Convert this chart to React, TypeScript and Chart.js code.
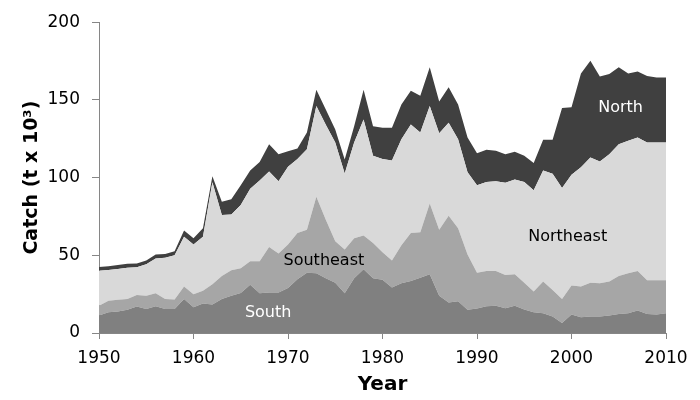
import React, { useEffect, useRef } from "react";
import { Chart, registerables } from "chart.js";

Chart.register(...registerables);

const years = [
  1950, 1951, 1952, 1953, 1954, 1955, 1956, 1957, 1958, 1959,
  1960, 1961, 1962, 1963, 1964, 1965, 1966, 1967, 1968, 1969,
  1970, 1971, 1972, 1973, 1974, 1975, 1976, 1977, 1978, 1979,
  1980, 1981, 1982, 1983, 1984, 1985, 1986, 1987, 1988, 1989,
  1990, 1991, 1992, 1993, 1994, 1995, 1996, 1997, 1998, 1999,
  2000, 2001, 2002, 2003, 2004, 2005, 2006, 2007, 2008, 2009, 2010,
];

const south = [
  11.3, 13.4, 13.8, 14.9, 17.0, 15.5, 17.2, 15.5, 15.5, 21.9,
  16.5, 19.0, 18.3, 21.9, 24.0, 25.7, 31.0, 25.5, 26.1, 26.1,
  29.0, 34.6, 38.8, 38.4, 35.2, 32.4, 25.5, 35.2, 41.0, 35.2,
  34.3, 29.3, 32.0, 33.5, 35.6, 37.8, 24.0, 19.7, 20.4, 14.9,
  15.7, 17.2, 17.6, 15.9, 17.6, 15.1, 13.4, 12.7, 10.6, 6.4,
  11.9, 10.2, 10.6, 10.6, 11.3, 12.3, 12.7, 14.4, 12.3, 11.9, 12.7,
];

const southeast = [
  6.3, 7.4, 7.6, 7.0, 7.4, 8.5, 8.3, 6.4, 6.1, 8.1,
  8.5, 8.2, 13.1, 14.8, 16.3, 15.9, 15.2, 20.7, 29.2, 25.0,
  28.0, 29.7, 27.6, 49.2, 37.6, 26.6, 28.2, 25.8, 21.8, 22.7,
  17.7, 17.4, 24.4, 30.8, 29.3, 45.5, 42.4, 55.8, 47.0, 35.6,
  23.1, 22.7, 22.3, 21.4, 20.2, 17.3, 13.3, 20.4, 17.0, 15.5,
  18.7, 19.7, 21.8, 21.4, 21.8, 24.4, 25.7, 25.5, 21.7, 22.1, 21.3,
];

const northeast = [
  22.4, 19.7, 19.8, 20.1, 17.9, 20.2, 22.5, 26.5, 28.4, 32.0,
  31.9, 34.8, 65.6, 39.3, 36.0, 40.7, 46.7, 52.0, 48.7, 46.5,
  50.0, 47.7, 51.9, 58.4, 61.2, 63.6, 49.0, 61.6, 74.6, 56.1,
  60.0, 64.3, 68.3, 69.9, 64.1, 62.7, 62.1, 59.8, 57.3, 53.0,
  56.2, 57.2, 57.7, 59.4, 61.0, 64.7, 65.2, 71.5, 74.8, 71.4,
  71.2, 76.8, 80.6, 78.3, 82.0, 84.8, 85.3, 85.9, 88.6, 88.6, 88.6,
];

const north = [
  2.4, 2.5, 2.5, 2.5, 2.5, 2.5, 2.5, 2.5, 2.6, 4.0,
  4.1, 5.4, 3.8, 8.4, 9.8, 12.7, 11.7, 11.8, 17.5, 17.4,
  10.0, 6.8, 10.7, 10.5, 9.8, 8.4, 9.0, 10.4, 19.1, 19.0,
  20.0, 21.0, 22.3, 21.7, 23.7, 25.0, 20.5, 22.9, 22.3, 22.3,
  20.6, 20.8, 19.7, 18.3, 17.9, 16.9, 17.5, 19.7, 21.9, 51.5,
  43.5, 60.3, 62.2, 54.7, 51.6, 49.5, 43.3, 42.4, 42.8, 41.8, 41.8,
];

const seriesNames = ["South", "Southeast", "Northeast", "North"];
const seriesColors = ["#808080", "#a6a6a6", "#d9d9d9", "#404040"];

// in-chart labels, anchored in data coordinates (year, catch)
const labelTexts = ["South", "Southeast", "Northeast", "North"];
const labelYears = [1967.9, 1973.8, 1999.6, 2005.2];
const labelValues = [13.2, 46.2, 61.7, 144.8];
const labelColors = ["#ffffff", "#000000", "#000000", "#ffffff"];

const FONT = "'DejaVu Sans', Verdana, Tahoma, sans-serif";

const areaLabels = {
  id: "areaLabels",
  afterDatasetsDraw(chart: any) {
    const { ctx, scales } = chart;
    ctx.save();
    ctx.font = `16px ${FONT}`;
    ctx.textAlign = "center";
    ctx.textBaseline = "middle";
    labelTexts.forEach((t, i) => {
      ctx.fillStyle = labelColors[i];
      ctx.fillText(t, scales.x.getPixelForValue(labelYears[i]), scales.y.getPixelForValue(labelValues[i]));
    });
    ctx.restore();
  },
};

export default function App() {
  const ref = useRef<HTMLCanvasElement | null>(null);

  useEffect(() => {
    if (!ref.current) return;
    const seriesData = [south, southeast, northeast, north];
    const chart = new Chart(ref.current, {
      type: "line",
      data: {
        datasets: seriesData.map((vals, i) => ({
          label: seriesNames[i],
          data: vals.map((v, j) => ({ x: years[j], y: v })),
          backgroundColor: seriesColors[i],
          borderColor: seriesColors[i],
          borderWidth: 0,
          pointRadius: 0,
          tension: 0,
          fill: i === 0 ? "origin" : "-1",
        })),
      },
      options: {
        animation: false,
        responsive: false,
        maintainAspectRatio: false,
        layout: { padding: { top: 15, right: 34, bottom: 0, left: 0 } },
        plugins: {
          legend: { display: false },
          tooltip: { enabled: false },
        },
        scales: {
          x: {
            type: "linear",
            min: 1950,
            max: 2010,
            afterFit: (s: any) => { s.height = 67; },
            border: { display: true, color: "#868686", width: 1 },
            grid: { display: true, drawOnChartArea: false, drawTicks: true, tickLength: 6, color: "#868686" },
            ticks: {
              stepSize: 10,
              color: "#000",
              padding: 9,
              font: { family: FONT, size: 17 },
              callback: (v: any) => String(v),
              maxRotation: 0,
            },
            title: {
              display: true,
              text: "Year",
              color: "#000",
              font: { family: FONT, size: 20, weight: "bold" },
              padding: { top: 0, bottom: 3 },
            },
          },
          y: {
            stacked: true,
            min: 0,
            max: 200,
            afterFit: (s: any) => { s.width = 99; },
            border: { display: true, color: "#868686", width: 1 },
            grid: { display: true, drawOnChartArea: false, drawTicks: true, tickLength: 7, color: "#868686" },
            ticks: {
              stepSize: 50,
              color: "#000",
              padding: 12,
              font: { family: FONT, size: 17 },
            },
            title: {
              display: true,
              text: "Catch (t x 10³)",
              color: "#000",
              font: { family: FONT, size: 19, weight: "bold" },
              padding: { top: 21, bottom: 0 },
            },
          },
        },
      },
      plugins: [areaLabels],
    });
    return () => chart.destroy();
  }, []);

  return (
    <div style={{ position: "fixed", left: 0, top: 0, width: 700, height: 400, background: "#fff" }}>
      <canvas ref={ref} width={700} height={400} style={{ width: 700, height: 400, display: "block" }} />
    </div>
  );
}
